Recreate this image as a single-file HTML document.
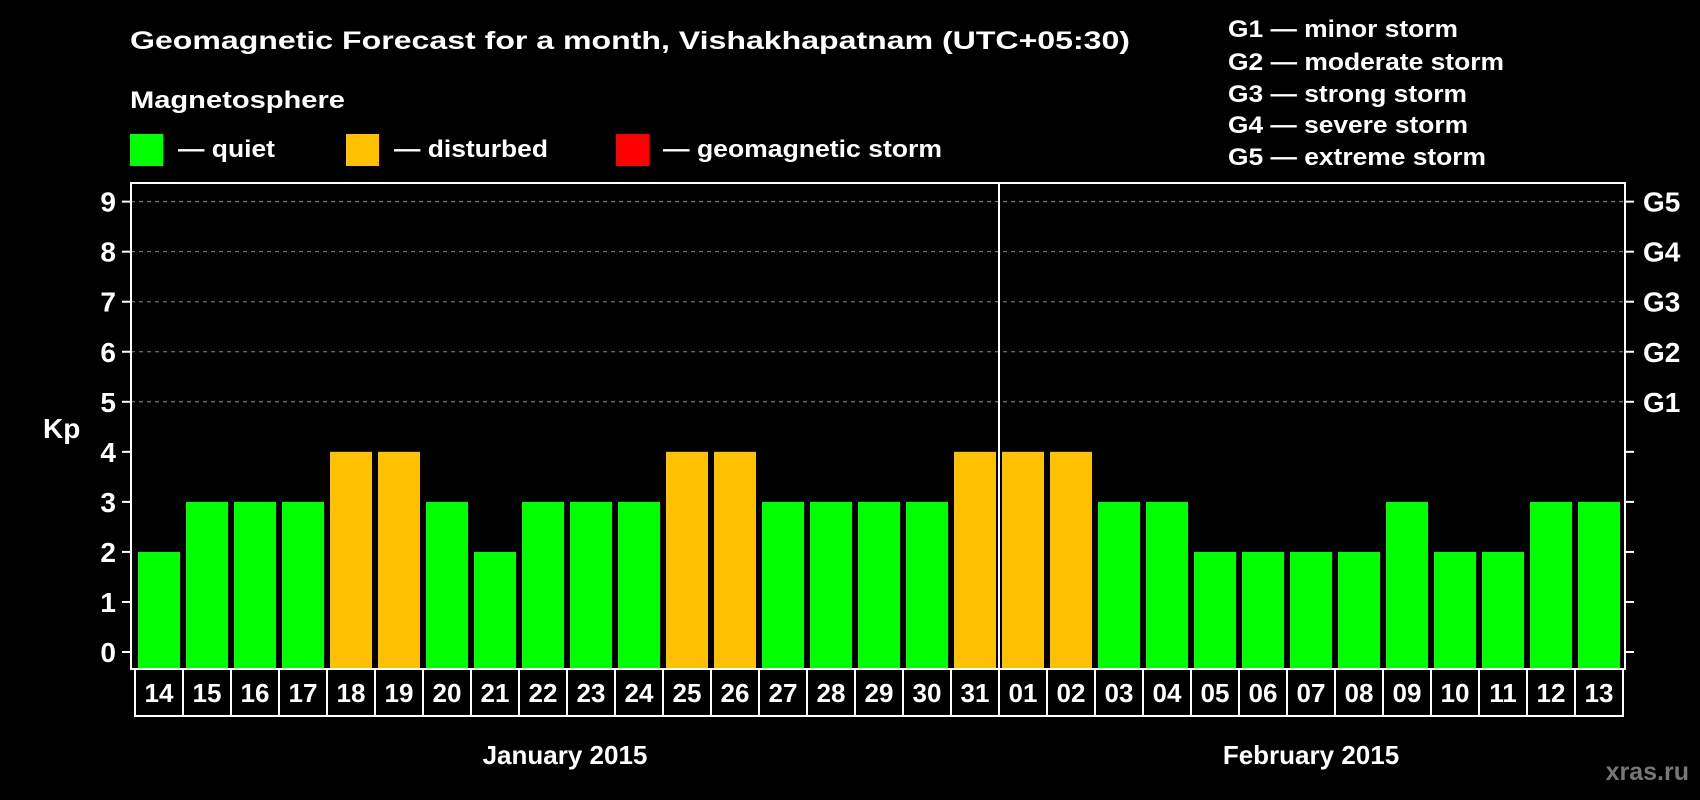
<!DOCTYPE html>
<html><head><meta charset="utf-8"><style>
html,body{margin:0;padding:0;background:#000;}
svg{display:block;font-family:"Liberation Sans",Arial,sans-serif;font-weight:bold;}
</style></head><body>
<svg id="chart" width="1700" height="800" viewBox="0 0 1700 800">
<rect width="1700" height="800" fill="#000"/>
<text x="130" y="49" font-size="25" fill="#fff" textLength="1000" lengthAdjust="spacingAndGlyphs">Geomagnetic Forecast for a month, Vishakhapatnam (UTC+05:30)</text>
<text x="130" y="108" font-size="24" fill="#fff" textLength="215" lengthAdjust="spacingAndGlyphs">Magnetosphere</text>
<g><rect x="130" y="134" width="33" height="32" fill="#00ff00"/><text x="178" y="157" font-size="24" fill="#fff" textLength="97" lengthAdjust="spacingAndGlyphs">— quiet</text></g>
<g><rect x="346" y="134" width="33" height="32" fill="#ffc000"/><text x="394" y="157" font-size="24" fill="#fff" textLength="154" lengthAdjust="spacingAndGlyphs">— disturbed</text></g>
<g><rect x="616" y="134" width="33" height="32" fill="#ff0000"/><text x="663" y="157" font-size="24" fill="#fff" textLength="279" lengthAdjust="spacingAndGlyphs">— geomagnetic storm</text></g>
<g font-size="24" fill="#fff">
<text x="1228" y="37" textLength="230" lengthAdjust="spacingAndGlyphs">G1 — minor storm</text>
<text x="1228" y="70" textLength="276" lengthAdjust="spacingAndGlyphs">G2 — moderate storm</text>
<text x="1228" y="102" textLength="239" lengthAdjust="spacingAndGlyphs">G3 — strong storm</text>
<text x="1228" y="133" textLength="240" lengthAdjust="spacingAndGlyphs">G4 — severe storm</text>
<text x="1228" y="165" textLength="258" lengthAdjust="spacingAndGlyphs">G5 — extreme storm</text>
</g>
<text x="43" y="438" font-size="28" fill="#fff">Kp</text>
<g id="grid"></g><g id="bars"></g><g id="axes"></g><g id="labels"></g>
<text x="565" y="764" font-size="26" fill="#fff" text-anchor="middle">January 2015</text>
<text x="1311" y="764" font-size="26" fill="#fff" text-anchor="middle">February 2015</text>
<text x="1689" y="780" font-size="25" fill="#777" text-anchor="end">xras.ru</text>
</svg>
<script>
const days = ["14","15","16","17","18","19","20","21","22","23","24","25","26","27","28","29","30","31","01","02","03","04","05","06","07","08","09","10","11","12","13"];
const kpValues = [2,3,3,3,4,4,3,2,3,3,3,4,4,3,3,3,3,4,4,4,3,3,2,2,2,2,3,2,2,3,3];
const yTicks = [0,1,2,3,4,5,6,7,8,9];
const gLabels = ["","","","","","G1","G2","G3","G4","G5"];
const monthSplitIndex = 18;

const NS="http://www.w3.org/2000/svg";
const X0=135, SLOT=48, FRAME_L=131, FRAME_R=1625, FRAME_T=183, FRAME_B=669, ROW_B=716;
const yScale = v => 652 - v*50.04;
const xScale = i => X0 + i*SLOT;
function mk(tag, attrs, parent){const e=document.createElementNS(NS,tag);for(const k in attrs)e.setAttribute(k,attrs[k]);parent.appendChild(e);return e;}
const grid=document.getElementById('grid'), bars=document.getElementById('bars'), axes=document.getElementById('axes'), labels=document.getElementById('labels');

yTicks.forEach((t,i)=>{
  const y=yScale(t);
  if(t>=5){const l=mk('line',{x1:FRAME_L,x2:FRAME_R,y1:y,y2:y,stroke:'#888','stroke-width':1,'stroke-dasharray':'4 4'},grid);
    
    }
  const tl=mk('line',{x1:FRAME_L-9,x2:FRAME_L,y1:y,y2:y,stroke:'#fff','stroke-width':2},axes);
  
  
  const tr=mk('line',{x1:FRAME_R,x2:FRAME_R+9,y1:y,y2:y,stroke:'#fff','stroke-width':2},axes);
  
  
  const tx=mk('text',{x:116,y:y+10,'font-size':28,fill:'#fff','text-anchor':'end'},axes);
  tx.textContent=String(t);
  
  
  if(gLabels[i]){const g=mk('text',{x:1643,y:y+10,'font-size':28,fill:'#fff'},axes);
    g.textContent=gLabels[i];
    
    }
});

kpValues.forEach((v,i)=>{
  const top=yScale(v);
  const r=mk('rect',{x:xScale(i)+3,y:top,width:42,height:FRAME_B-top,fill:v>=5?'#ff0000':(v>=4?'#ffc000':'#00ff00')},bars);
  
  
});

const fr=mk('rect',{x:FRAME_L,y:FRAME_T,width:FRAME_R-FRAME_L,height:FRAME_B-FRAME_T,fill:'none',stroke:'#fff','stroke-width':2},axes);


const sx=xScale(monthSplitIndex);
const sp=mk('line',{x1:sx,x2:sx,y1:FRAME_T,y2:ROW_B,stroke:'#fff','stroke-width':2},axes);



days.forEach((d,i)=>{
  const x=xScale(i);
  const c=mk('rect',{x:x,y:FRAME_B,width:SLOT,height:ROW_B-FRAME_B,fill:'none',stroke:'#fff','stroke-width':2},labels);
  
  
  const t=mk('text',{x:x+SLOT/2,y:702,'font-size':26,fill:'#fff','text-anchor':'middle'},labels);
  t.textContent=d;
  
  
});
</script>
</body></html>
